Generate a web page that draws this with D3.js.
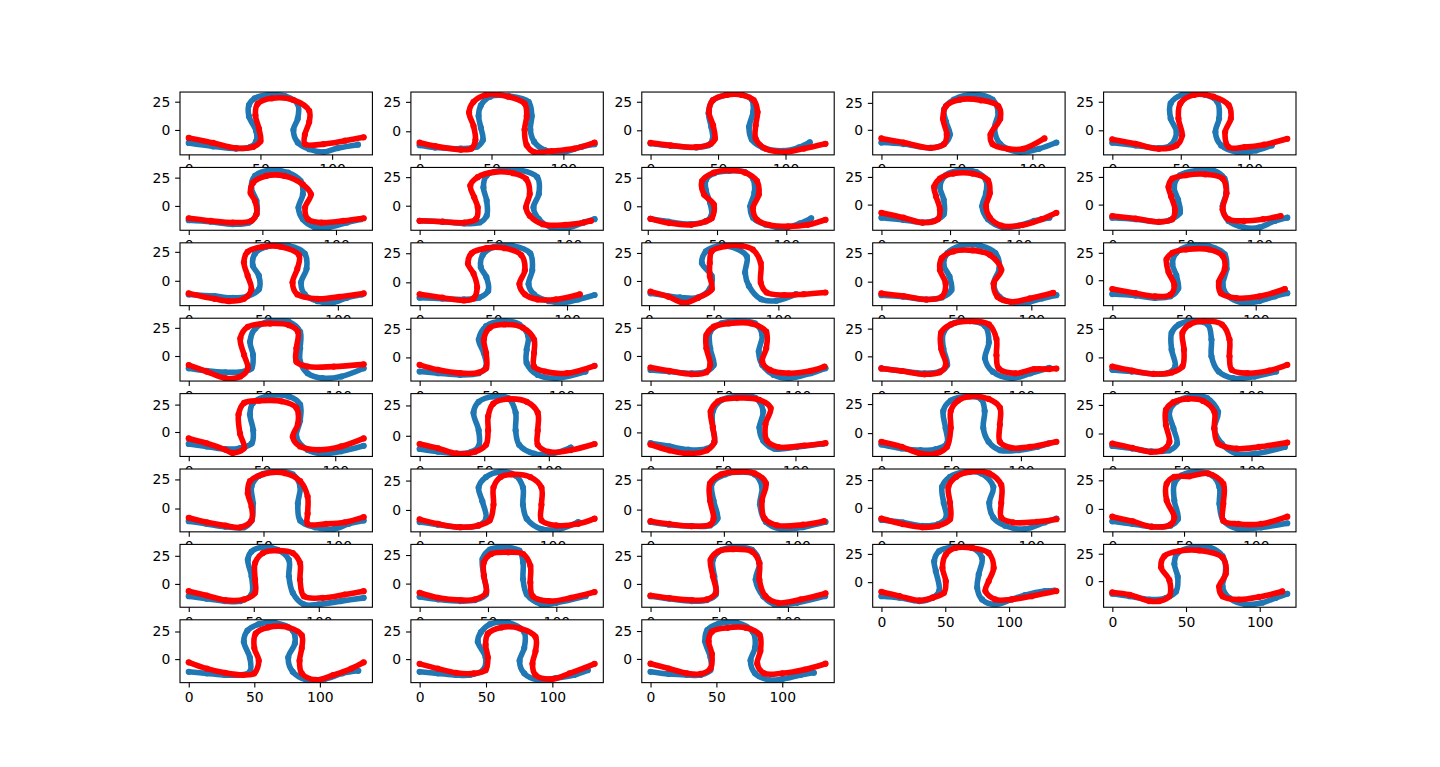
<!DOCTYPE html>
<html>
<head>
<meta charset="utf-8">
<script src="https://cdn.jsdelivr.net/npm/d3@7"></script>
<style>
  body { margin: 0; background: #fff; }
  svg { display: block; }
</style>
</head>
<body>
<div id="chart"></div>
<script>
// tick labels
var xTicks = [0, 50, 100]
var yTicks = [0, 25]

// each panel: blue curve (b) and red curve (r), [x, y] points
var b01 = [[0,-11.5],[17,-14.5],[33,-16.5],[43,-15],[47,-10],[47,-1],[42,12],[42,22],[46,28],[56,31],[67,30],[76,23],[76,10],[73,0],[76,-11],[84,-17],[94,-19.5],[104,-16],[118,-13]]
var r01 = [[0,-7],[17,-11.5],[33,-16],[45,-15],[50,-10],[49,1],[46.5,13],[48,23],[58,28],[73,26.5],[84,17],[84,7],[81,-4],[81,-12.5],[94,-12.5],[109,-9.5],[122,-6.5]]
var b02 = [[0,-11.8],[10.7,-13.8],[28.6,-14.7],[40,-13],[44,-7.4],[42.6,3],[41,13],[42.6,22],[49,29.4],[61.7,30],[75.8,25],[78,13],[77,1.5],[79.6,-8.8],[87,-16],[100,-17.6],[112.8,-13.2],[121.7,-11]]
var r02 = [[0,-9.7],[10.7,-12.6],[28.6,-15.6],[36,-14.7],[38.8,-7.4],[37.5,4.4],[34.4,16],[37.5,25],[46,30.9],[61.7,29.4],[73,23.5],[74.5,13],[73,1.5],[74.5,-11.8],[79.6,-17.6],[92,-16.8],[107.7,-14.7],[121.7,-9.7]]
var b03 = [[0,-11.5],[15,-13.5],[34,-15],[43,-13],[46,-8],[45,3],[43,15],[46,26],[56,31],[68,31],[75,27],[76,16],[73,3],[75,-8],[83,-15],[98,-18],[110,-15],[118,-10.5]]
var r03 = [[0,-11],[14.8,-13.2],[33.8,-14.7],[44.7,-11.8],[47.7,-7.4],[46.3,4.4],[43.3,16],[46.3,26.5],[56.3,31],[67.8,31],[76.4,26.5],[79.3,16],[77.9,4.4],[77.9,-7.4],[85,-16],[99.4,-19],[113.7,-16],[129.6,-11.8]]
var b04 = [[0,-11.8],[14.6,-13.2],[32.6,-16.8],[41.5,-13.2],[45.4,-4.4],[42.8,7.4],[41.5,19],[48,28],[60.8,32.4],[73.6,28],[77.4,16],[74.9,1.5],[78.7,-13.2],[91.5,-20.6],[104.4,-17.6],[115.9,-11.8]]
var r04 = [[0,-8],[14.6,-11.8],[32.6,-16.8],[41.5,-13.2],[43.3,-4.4],[40.8,10.3],[42.8,22],[51.8,28],[65.9,27.4],[77.4,22],[78.7,10.3],[72.3,-4.4],[73.6,-13.2],[83.8,-17.6],[94,-17.6],[108,-8]]
var b05 = [[0,-10.9],[17,-13.2],[34,-15.6],[42.6,-13.2],[46.9,-1.5],[42.6,10.3],[42.6,23.5],[51,31],[68,31],[76.7,25],[78,10.3],[75.3,-1.5],[79.5,-13.2],[91,-19],[105,-17.6],[116.5,-13.2]]
var r05 = [[0,-8],[17,-11.8],[34,-16.2],[46.9,-13.2],[51,-4.4],[48.3,10.3],[49.7,23.5],[59.7,31],[73.9,29.4],[85,22],[86.6,10.3],[82.4,-1.5],[85,-14.7],[96.6,-14.7],[110.8,-12.6],[127.8,-7.4]]
var b06 = [[0,-12.6],[15,-14],[30,-16.2],[41,-14.7],[46,-7.4],[46,4.4],[42.5,16],[45,26.5],[55,31.5],[67.5,29.4],[76,22],[77.5,10.3],[74.5,-1.5],[77.5,-11.8],[85,-18.5],[95,-19],[107.5,-14.7],[117,-11.8]]
var r06 = [[0,-10.9],[15,-13.2],[30,-14.7],[42.5,-13.2],[46,-7.4],[45,4.4],[42,11.5],[43.8,20.6],[52.5,26.5],[65,26.5],[77.5,19],[83,10.3],[79,-1.5],[81,-11.8],[90,-14.7],[105,-13.2],[118.8,-10.9]]
var b07 = [[0,-13.2],[15.4,-14],[30,-15.6],[40.3,-14.7],[45,-8.8],[45,4.4],[42.8,16],[45,26.5],[55,31],[67.7,31],[78.9,25],[80,10.3],[76.4,-1.5],[80,-11.8],[87.6,-18.5],[100,-19],[110,-14.7],[117.4,-11.8]]
var r07 = [[0,-13.2],[15.4,-14],[30,-14.7],[37.8,-11.8],[39,-1.5],[36.6,7.4],[34,17.6],[39,25],[50,29.4],[62.7,28.5],[71.4,23.5],[73.9,10.3],[71.4,-1.5],[73.9,-8.8],[82.6,-16.2],[97.5,-16.8],[110,-14.7],[115,-13.2]]
var b08 = [[2,-11],[15,-13.5],[31,-15.5],[42,-13],[46,-8],[45,3],[42,14],[42,23],[48,29],[59,31],[70,30],[76,24],[77,12],[74,0],[76,-10],[85,-16],[100,-18.5],[110,-15],[118,-10.5]]
var r08 = [[2,-10.9],[15.4,-14.7],[31.4,-16.2],[42,-13.2],[46.3,-10.3],[47.7,1.5],[40.6,10.3],[39.2,22],[47.7,29.4],[59,31.5],[70.4,29.4],[78.9,22],[80.2,10.3],[76,-1.5],[78.9,-11.8],[87.3,-16.2],[101.4,-17.6],[115.5,-16.2],[128.3,-11.8]]
var b09 = [[0,-11.8],[16,-13.8],[30,-16.2],[38.4,-14.7],[45.4,-8.8],[45.4,4.4],[42.6,16],[46.8,26.5],[58,31],[69.2,29.4],[76.2,22],[76.2,10.3],[73.4,-1.5],[77.6,-13.2],[88.8,-20.6],[100,-19],[111.2,-14.7],[122.4,-11.8]]
var r09 = [[0,-7.4],[16,-11.8],[30,-16.2],[41.2,-13.2],[42.6,-4.4],[39.8,7.4],[38.4,16],[42.6,23.5],[52.4,28],[66.4,28],[77.6,22],[79,10.3],[76.2,-1.5],[79,-11.8],[87.4,-19],[102.8,-18.5],[116.8,-13.2],[127.5,-7.4]]
var b10 = [[0,-11.8],[15.8,-13.2],[31.6,-15.6],[39.5,-13.8],[46,-7.4],[44.7,4.4],[42,16],[46,26.5],[57.9,31],[68.4,31],[76.3,23.5],[77.6,10.3],[75,-1.5],[79,-14.7],[89.5,-20.6],[100,-20.6],[110.5,-14.7],[119,-11.8]]
var r10 = [[0,-10.3],[15.8,-12.6],[31.6,-15.6],[40.8,-13.2],[42.6,-4.4],[40,7.4],[38.2,16],[40.8,23.5],[50,26.5],[63.2,27.4],[75,23.5],[77.6,10.3],[75,-4.4],[79,-13.2],[89.5,-14.7],[102.6,-13.2],[114.5,-10.3]]
var b11 = [[0,-11.8],[17.3,-13.2],[29.6,-14.7],[39.5,-13.2],[47,-7.4],[47,4.4],[43,13],[44.4,23.5],[51.9,29.4],[66.7,30.3],[77.8,23.5],[79,10.3],[75.3,-1.5],[77.8,-11.8],[86.4,-17.6],[96.3,-19],[106,-14.7],[116,-11.8]]
var r11 = [[0,-10.9],[17.3,-15.6],[27,-17.6],[37,-15.6],[42,-7.4],[39.5,4.4],[37,16],[39.5,25],[49.4,29.4],[61.7,29.4],[74,22],[72.8,10.3],[69.6,-1.5],[72.8,-11.8],[86.4,-15.6],[101,-13.8],[117.3,-10.9]]
var b12 = [[0,-13.2],[15.4,-14],[30,-14.7],[40.3,-13.2],[46.5,-7.4],[45.3,4.4],[41.5,13],[42.8,23.5],[50.2,30.3],[62.7,31.5],[75,25],[76.4,10.3],[73.9,-1.5],[77.6,-10.3],[87.6,-16.2],[97.5,-17.6],[107.5,-14.7],[118.7,-10.9]]
var r12 = [[0,-10.3],[15.4,-13.2],[30,-15.6],[36.6,-13.8],[39,-4.4],[36.6,7.4],[32.8,16],[35.3,25],[45.3,29.4],[57.7,29.4],[68.9,23.5],[71.4,10.3],[67.7,-1.5],[71.4,-10.3],[80,-14.7],[92.5,-14.7],[108.7,-10.3]]
var b13 = [[1.2,-11],[24,-14.7],[38,-14.7],[47,-7],[48.5,4.4],[40.9,16],[44,26.5],[53,31],[62,31],[75.6,22],[74.3,7.4],[77.2,-4.4],[86.4,-16.2],[98.5,-17.6],[113.6,-11.8]]
var r13 = [[1.2,-9.5],[15,-14],[27,-19.5],[38,-15],[48.5,-7.4],[47,4.4],[47,16],[48.5,26.5],[59,31],[71.2,31.5],[80.3,28],[86.4,16],[86.4,-1.5],[91,-10.3],[104.5,-12.6],[119.6,-11.8],[136.4,-10.3]]
var b14 = [[0,-11.8],[14.6,-13.2],[30,-15.6],[40.3,-13.8],[46.7,-7.4],[45.4,4.4],[41.5,14.7],[44,25],[53,31.5],[65.9,31.5],[76,25],[78.7,11.8],[74.9,-1.5],[78.7,-13.2],[89,-18.5],[99,-17.6],[107,-14.7],[116.7,-11.8]]
var r14 = [[0,-10.3],[14.6,-12.6],[30,-15.6],[40.3,-13.2],[42.8,-1.5],[39,10.3],[40.3,20.6],[48,26.5],[60.8,27.4],[72.3,23.5],[80,10.3],[74.9,-1.5],[77.4,-13.2],[86.4,-17.6],[99,-14.7],[114.6,-9.7]]
var b15 = [[0,-12.6],[16.2,-14],[29.7,-16.2],[40.5,-14.7],[46,-7.4],[44.6,4.4],[41.9,14.7],[44.6,25],[54,31.5],[67.6,31],[78.4,23.5],[79.7,10.3],[77,-4.4],[81,-14.7],[92,-20.6],[102.7,-19],[113.5,-14.7],[122,-11.8]]
var r15 = [[0,-8],[16.2,-11.8],[29.7,-14.7],[40.5,-13.2],[43.2,-4.4],[39.2,7.4],[37.8,19],[41.9,25],[51.4,28],[67.6,28],[77,22],[78.4,10.3],[74.3,-1.5],[75.7,-11.8],[86.5,-16.2],[102.7,-14.7],[120.3,-8]]
var b16 = [[0,-10.9],[12,-13.2],[24.5,-14.4],[37,-13.8],[42,-10.9],[43,1],[41,12.6],[44.5,24.4],[54.5,31],[67,30.3],[74.5,21.5],[74.5,6.8],[74.5,-5],[79.5,-15.3],[89.5,-19.7],[102,-18.2],[117,-10.9]]
var r16 = [[0,-8],[12,-13.8],[24.5,-19.7],[34.5,-18.2],[39.5,-10.9],[37,1],[34.5,15.6],[39.5,25.9],[54.5,28.8],[67,27.4],[73,21.5],[72,6.8],[72,-5],[79.5,-9.4],[97,-9.4],[117,-7.4]]
var b17 = [[0,-12.4],[13,-13.8],[28.6,-15.3],[41.7,-13.8],[46.9,-7.9],[45.3,3.8],[41.7,15.6],[46.9,27.4],[59.9,31.8],[70.3,28.8],[76.6,18.5],[75.5,6.8],[75.5,-5],[83.3,-15.3],[96.4,-18.2],[117,-12.4]]
var r17 = [[0,-6.5],[13,-10.9],[28.6,-13.8],[41.7,-13.2],[46.9,-9.4],[46.9,3.8],[45.3,15.6],[49.5,25.9],[59.9,28.8],[72.9,25.9],[80.7,15.6],[80.7,3.8],[80.7,-7.9],[88.5,-12.4],[104,-13.8],[123.4,-7.4]]
var b18 = [[0,-12.4],[12.7,-13.8],[28,-15.3],[38,-13.8],[43,-7.9],[40.6,6.8],[40.6,21.5],[48.2,28.8],[58.4,30.9],[71,28.8],[76,18.5],[73.6,3.8],[76,-7.9],[83.8,-16.8],[94,-19.7],[109,-15.3],[119,-10.9]]
var r18 = [[0,-10.3],[12.7,-13.2],[28,-16.2],[38,-14.4],[40.6,-7.9],[38,6.8],[38,18.5],[43,25.9],[53.3,28.8],[68.5,28.8],[78.7,21.5],[78.7,6.8],[76,-5],[81.2,-12.4],[94,-15.3],[109,-13.2],[118.3,-9.4]]
var b19 = [[0,-10.9],[14.6,-13.2],[30.8,-15.3],[41.6,-13.8],[47,-7.9],[44.3,6.8],[44.3,21.5],[52.4,30.3],[63.2,31.8],[74,27.4],[76.8,12.6],[74,-2],[79.5,-13.8],[93,-19.7],[106.5,-15.3],[120,-10.3]]
var r19 = [[0,-10.9],[14.6,-13.2],[30.8,-16.2],[41.6,-14.4],[46,-7.9],[42.7,6.8],[42.7,21.5],[49.7,28.8],[63.2,31.8],[76.8,28.8],[82.2,15.6],[82.2,1],[83.8,-10.9],[95.7,-15.3],[109,-11.5],[120,-11.5],[125,-11]]
var b20 = [[0,-10.9],[14,-12.4],[29.7,-14.4],[40,-13.8],[45.3,-7.9],[42.7,6.8],[42.7,21.5],[48,28.8],[58.3,31.8],[68.8,28.8],[71.4,15.6],[71.4,1],[76.6,-12.4],[87,-18.2],[102.6,-16.8],[118,-12.4]]
var r20 = [[0,-8],[14,-11.5],[29.7,-14.4],[42.7,-13.2],[50.5,-7.9],[51.6,6.8],[50.5,21.5],[55.7,28.8],[66,31.8],[79,28.8],[84.4,15.6],[84.4,1],[86,-10.9],[97.4,-13.8],[113,-11.5],[126,-6.5]]
var b21 = [[0,-10.9],[12.2,-13.2],[25,-15.6],[35,-14.7],[43,-10.3],[44,1.5],[41.8,16],[43.9,26.5],[53,32.4],[68.4,32.4],[76,25],[76,10.3],[73.5,-4.4],[81,-16.2],[91.3,-19.7],[104,-17.6],[119.4,-12.6]]
var r21 = [[0,-5.9],[12.2,-10.3],[25,-16.2],[30,-19.1],[37.8,-14.7],[35,-1.5],[34,16],[37.8,26.5],[48,28.5],[63.3,28],[73.5,22],[74.5,7.4],[71,-4.4],[76,-13.2],[88.8,-16.2],[104,-13.2],[119.4,-5.9]]
var b22 = [[0,-10.9],[14.3,-13.2],[28.6,-14.7],[40,-13.2],[45.7,-8.8],[45.7,4.4],[41.7,19],[45.7,28],[57,32.4],[68.6,31],[74.3,19],[74.3,4.4],[77,-7.4],[88.6,-14.7],[102.9,-14.7],[117,-9.7]]
var r22 = [[0,-6.8],[14.3,-10.3],[28.6,-14.7],[42.9,-13.2],[51.4,-7.4],[53,4.4],[53,16],[57,26.5],[68.6,30.3],[82.9,28],[91.4,19],[91.4,4.4],[91.4,-7.4],[100,-13.2],[117,-11.8],[135.4,-6.8]]
var b23 = [[0,-9.7],[13,-12.6],[26,-15.6],[38.9,-14.7],[44,-8.8],[43,4.4],[43,19],[49.2,29.4],[59.6,32.4],[72.5,31],[77.7,19],[75.1,4.4],[77.7,-7.4],[85.5,-14.7],[101,-13.2],[119,-10.3]]
var r23 = [[0,-10.9],[13,-16.2],[26,-19.1],[38.9,-16.2],[44,-8.8],[43,4.4],[41.5,19],[46.6,28],[59.6,31],[75,29.4],[82.9,22],[79.3,7.4],[80.3,-7.4],[88,-13.2],[106,-11.8],[120.7,-9.7]]
var b24 = [[0,-9.7],[14.6,-13.2],[28,-14.7],[39,-13.8],[47,-8.8],[46,4.4],[44.3,19],[49.7,28],[60.5,31.5],[71.4,29.4],[74,19],[73,4.4],[76.8,-7.4],[85,-14.7],[98.4,-14.7],[112,-11.8],[120,-8.8]]
var r24 = [[0,-7.4],[14.6,-11.8],[28,-17.6],[39,-17.6],[47,-11.8],[49.7,4.4],[49.7,19],[55,28],[63.2,31.5],[76.8,29.4],[84.9,22],[84.9,7.4],[84.9,-7.4],[93,-12.6],[106.5,-11.8],[125.4,-7.4]]
var b25 = [[0,-10.9],[14.4,-13.2],[27.8,-15.6],[41,-14.7],[46.5,-8.8],[43.9,4.4],[41,19],[46.5,28],[57.2,32.4],[68,31],[76,19],[73.3,4.4],[78.6,-8.8],[89.3,-17.6],[102.7,-17.6],[124,-11.8]]
var r25 = [[0,-8.8],[14.4,-12.6],[27.8,-16.2],[35.8,-14.7],[41,-7.4],[38.5,7.4],[38.5,20.6],[43.9,27.4],[54.5,30.3],[65.2,28.5],[73.3,19],[73.3,4.4],[76,-8.8],[89.3,-13.2],[105.3,-11.8],[125.7,-8]]
var b26 = [[0,-10.9],[12,-13.2],[24.5,-15.6],[37,-16.2],[42,-10.3],[43,4.4],[42,19],[47,28],[57,31.5],[69.5,29.4],[74.5,19],[73,4.4],[74.5,-10.3],[84.5,-16.2],[97,-17.6],[107,-13.2],[117,-10.3]]
var r26 = [[0,-8],[12,-11.8],[24.5,-14.7],[34.5,-16.2],[42,-10.3],[42,1.5],[39.5,13.2],[41,23.5],[49.5,29.4],[64.5,30.3],[74.5,23.5],[79.5,10.3],[79.5,-4.4],[79.5,-13.2],[92,-13.2],[104.5,-11.8],[117,-7.4]]
var b27 = [[0,-10.3],[13.9,-12.6],[30.6,-14.7],[44.4,-13.2],[50,-7.4],[47.2,7.4],[44.4,19],[50,28],[61,32.4],[72.2,29.4],[77.8,19],[77.8,4.4],[80.6,-7.4],[91.7,-16.2],[105.6,-16.2],[119.4,-10.3]]
var r27 = [[0,-8],[13.9,-11.8],[30.6,-14.7],[44.4,-13.2],[52.8,-8.8],[55.6,4.4],[55.6,19],[61,28],[69.4,30.3],[83.3,28],[91.7,19],[91.7,4.4],[91.7,-8.8],[102.8,-13.2],[119.4,-11.8],[131.7,-7.4]]
var b28 = [[0,-10.3],[12.7,-12.6],[28,-13.8],[40.6,-13.2],[45.7,-7.4],[43,7.4],[42,22],[50.8,29.4],[61,31.5],[71,29.4],[76,19],[74.6,4.4],[78.7,-10.3],[88.8,-16.2],[104,-14.7],[119.3,-10.3]]
var r28 = [[0,-9.7],[12.7,-12],[28,-13.8],[40.6,-12.6],[43,-7.4],[40.6,7.4],[40.6,22],[48.2,29.4],[58.4,31.5],[71,30.3],[78.7,22],[76,7.4],[77.7,-7.4],[86.3,-13.2],[104,-12.6],[118.3,-9.7]]
var b29 = [[0,-10.9],[14.2,-13.2],[27.4,-16.2],[37.9,-14.7],[43.2,-8.8],[41.6,4.4],[40.5,19],[45.8,28],[56.3,32.4],[66.8,31],[74.7,19],[72,4.4],[74.7,-8.8],[82.6,-16.2],[95.8,-19.1],[109,-13.2],[116.8,-9.7]]
var r29 = [[0,-9.7],[14.2,-14.7],[27.4,-17.6],[37.9,-16.2],[45.8,-10.3],[45.8,4.4],[44.7,19],[50,28],[59,32.4],[72,31],[80,20.6],[80,4.4],[80,-8.8],[87.9,-13.2],[103.7,-12.6],[116.8,-10.3]]
var b30 = [[0,-10.9],[14.2,-13.2],[27.4,-15.6],[40.5,-14.7],[45.8,-8.8],[43.2,7.4],[43.2,22],[48.4,29.4],[59,32.4],[69.5,29.4],[74.7,19],[74.7,4.4],[77.4,-10.3],[87.9,-17.6],[103.7,-16.2],[122,-12.6]]
var r30 = [[0,-6.8],[14.2,-10.9],[27.4,-15.6],[40.5,-13.8],[43.2,-7.4],[37.9,7.4],[37.9,22],[43.2,28],[53.7,28.5],[66.8,31],[77.4,22],[77.4,4.4],[77.4,-10.3],[87.9,-13.2],[103.7,-13.2],[122,-6.8]]
var b31 = [[0,-10.9],[13.8,-13.2],[28,-15.3],[39.7,-15.3],[48.3,-9.4],[48.3,6.8],[45.4,21.5],[48.3,28.8],[57,32.6],[68.4,30.3],[77,21.5],[77,6.8],[80,-7.9],[88.5,-18.2],[100,-18.2],[117,-15.3],[134.5,-12.4]]
var r31 = [[0,-6.5],[13.8,-10.3],[28,-14.4],[42.5,-13.8],[51,-7.9],[51,3.8],[51,18.5],[57,27.4],[68.4,29.7],[80,27.4],[85.6,18.5],[85.6,3.8],[88.5,-10.9],[103,-12.4],[120,-9.4],[134.5,-6.5]]
var b32 = [[0,-11.5],[13.5,-13.8],[29.7,-15.3],[40.5,-14.4],[48.6,-9.4],[47,6.8],[46,21.5],[51.4,29.7],[62.2,31.8],[73,28.8],[75.7,18.5],[75.7,3.8],[78.4,-9.4],[89,-18.2],[100,-16.8],[121.6,-10.9]]
var r32 = [[0,-8],[13.5,-12.4],[29.7,-14.4],[40.5,-13.8],[48.6,-7.9],[47,6.8],[47,18.5],[52.4,25.9],[64.9,27.4],[75.7,25.9],[81,15.6],[81,1],[82.7,-10.9],[94.6,-15.3],[110.8,-12.4],[128,-7.4]]
var b33 = [[0,-10.9],[13.7,-13.2],[30,-15.3],[41,-14.4],[47.5,-9.4],[46.4,6.8],[45.4,21.5],[51.9,30.3],[62.8,32.6],[73.8,30.3],[79.2,18.5],[76.5,3.8],[82,-10.9],[90.2,-18.2],[106.6,-16.8],[127,-10.9]]
var r33 = [[0,-10.3],[13.7,-12.6],[30,-14.4],[41,-13.8],[47.5,-7.9],[45.4,6.8],[43.7,21.5],[49.2,28.8],[60.1,30.9],[73.8,28.8],[79.2,18.5],[79.2,3.8],[83.6,-10.9],[92.9,-16.8],[109.3,-13.8],[127.3,-8.5]]
var b34 = [[0,-12.4],[14.2,-13.8],[29.7,-16.8],[40,-13.8],[45.2,-7.9],[42.6,9.7],[41.3,18.5],[45.2,27.4],[55.6,30.9],[71,30.3],[78.8,21.5],[76.2,6.8],[75,-5],[78.8,-15.3],[89,-19.7],[102,-15.3],[112.4,-11.5],[128,-7.9],[135.7,-7.4]]
var r34 = [[0,-8.5],[14.2,-12.4],[29.7,-16.2],[40,-13.8],[49,-9.4],[50.4,0.9],[47.8,12.6],[50.4,24.4],[58,30.3],[71,30.3],[84,25.9],[87.9,12.6],[84,0.9],[81.4,-7.9],[89,-15.3],[102,-15.3],[117.6,-12.4],[137,-7.9]]
var b35 = [[0,-11.5],[11.7,-13.8],[25.2,-16.8],[36.5,-15.3],[43.2,-9.4],[44.4,3.8],[42.1,15.6],[44.4,25.9],[54.5,30.9],[65.8,30.9],[74.8,22.9],[77,9.7],[74.8,-5],[79.3,-15.3],[90.5,-21.2],[101.8,-19.7],[110.8,-15.3],[118.7,-11.5]]
var r35 = [[0,-10.3],[11.7,-12.4],[25.2,-18.2],[32,-18.2],[38.7,-13.8],[38.7,0.9],[33.1,12.6],[35.4,22.9],[45.5,27.4],[59,28],[74.8,21.5],[77,6.8],[72.5,-5],[74.8,-13.8],[86,-16.8],[99.5,-14.4],[115.3,-9.4]]
var b36 = [[0,-11.5],[13.8,-12.9],[27.6,-14.4],[37.9,-14.4],[46.6,-11.5],[46.6,1.4],[42,15.8],[44.8,25.9],[53.4,31.6],[65.5,33],[79.3,25.9],[81,14.4],[75.9,1.4],[79.3,-11.5],[89.7,-18.7],[103.4,-18.1],[117.2,-12.9],[129.3,-10.6]]
var r36 = [[0,-2.9],[13.8,-8.6],[27.6,-12.4],[41.4,-14.4],[50,-12.9],[53.4,-1.4],[50,10],[51,23],[60.3,28.7],[75.9,28.7],[86.2,21.6],[86.2,10],[84.5,-1.4],[86.2,-12.9],[96.6,-18.7],[110.3,-14.4],[124,-8.6],[133.4,-2.9]]
var b37 = [[0,-11.5],[13.7,-12.9],[27.4,-14.4],[37.7,-14.4],[47.9,-10],[49.7,1.4],[43.8,15.8],[46.2,24.4],[53,31.6],[66.8,33],[78.8,24.4],[78.8,10],[75.3,-1.4],[78.8,-12.9],[89,-18.7],[102.7,-17.2],[116.4,-14.4],[126.7,-10]]
var r37 = [[0,-4.3],[13.7,-8.6],[27.4,-12.4],[41,-12.9],[49.7,-10],[51.4,1.4],[49.7,12.9],[51.4,23],[61.6,28.7],[75.3,27.9],[87.3,20.1],[87.3,7.2],[85,-4.3],[87.3,-14.4],[99.3,-18.1],[113,-12.9],[131.8,-4.3]]
var b38 = [[0,-11.5],[13.8,-13.5],[27.6,-14.4],[37.9,-14.4],[45.5,-10],[45.5,1.4],[41.4,15.8],[43.1,25.9],[51.7,31.6],[65.5,32.5],[77.6,24.4],[79.3,10],[75.9,-1.4],[79.3,-12.9],[89.7,-18.7],[100,-18.1],[113.8,-14.4],[124,-12.4]]
var r38 = [[0,-4.3],[13.8,-8.6],[27.6,-12.9],[37.9,-13.5],[45.5,-8.6],[46.6,4.3],[44.1,15.8],[46.6,24.4],[58.6,27.9],[72.4,27.9],[82.8,21.6],[83.4,7.2],[81,-4.3],[86.2,-12.9],[100,-12.9],[117.2,-9.5],[132.8,-4.3]]

var panels = [
    [b01, r01], [b02, r02], [b03, r03], [b04, r04], [b05, r05],
    [b06, r06], [b07, r07], [b08, r08], [b09, r09], [b10, r10],
    [b11, r11], [b12, r12], [b13, r13], [b14, r14], [b15, r15],
    [b16, r16], [b17, r17], [b18, r18], [b19, r19], [b20, r20],
    [b21, r21], [b22, r22], [b23, r23], [b24, r24], [b25, r25],
    [b26, r26], [b27, r27], [b28, r28], [b29, r29], [b30, r30],
    [b31, r31], [b32, r32], [b33, r33], [b34, r34], [b35, r35],
    [b36, r36], [b37, r37], [b38, r38]
]

var width = 1440
var height = 767
// matplotlib default subplot params
var figLeft = 0.125 * width, figRight = 0.9 * width
var figTop = (1 - 0.88) * height, figBottom = (1 - 0.11) * height
var nCols = 5, nRows = 8
var cellW = (figRight - figLeft) / (nCols + (nCols - 1) * 0.2)
var gapW = cellW * 0.2
var cellH = (figBottom - figTop) / (nRows + (nRows - 1) * 0.2)
var gapH = cellH * 0.2

var blueColor = '#1f77b4'
var redColor = '#ff0000'
var fontSize = '13.9px'
var tickLen = 4.86

var svg = d3.select('#chart').append('svg').attr('width', width).attr('height', height)
svg.append('rect').attr('width', width).attr('height', height).attr('fill', '#fff')

var line = d3.line().curve(d3.curveCatmullRom.alpha(0.5))

panels.forEach(function (pair, i) {
    var row = Math.floor(i / nCols)
    var col = i % nCols
    var x0 = figLeft + col * (cellW + gapW)
    var y0 = figTop + row * (cellH + gapH)

    var all = pair[0].concat(pair[1])
    var xExt = d3.extent(all, d => d[0])
    var yExt = d3.extent(all, d => d[1])
    var xPad = (xExt[1] - xExt[0]) * 0.05
    var yPad = (yExt[1] - yExt[0]) * 0.05
    var xScale = d3.scaleLinear().domain([xExt[0] - xPad, xExt[1] + xPad]).range([0, cellW])
    var yScale = d3.scaleLinear().domain([yExt[0] - yPad, yExt[1] + yPad]).range([cellH, 0])

    var g = svg.append('g').attr('transform', `translate(${x0},${y0})`)
    // white axes patch covers the earlier row's tick labels, like matplotlib
    g.append('rect').attr('width', cellW).attr('height', cellH).attr('fill', '#fff')

    var clipId = 'clip' + i
    g.append('defs').append('clipPath').attr('id', clipId)
        .append('rect').attr('width', cellW).attr('height', cellH)

    var plot = g.append('g').attr('clip-path', `url(#${clipId})`)
    var colors = [blueColor, redColor]
    pair.forEach(function (pts, k) {
        plot.append('path')
            .attr('d', line(pts.map(d => [xScale(d[0]), yScale(d[1])])))
            .attr('fill', 'none')
            .attr('stroke', colors[k])
            .attr('stroke-width', 5.6)
            .attr('stroke-linejoin', 'round')
            .attr('stroke-linecap', 'round')
        plot.selectAll('circle.c' + k).data(pts).join('circle')
            .attr('class', 'c' + k)
            .attr('cx', d => xScale(d[0]))
            .attr('cy', d => yScale(d[1]))
            .attr('r', 3.1)
            .attr('fill', colors[k])
    })

    var xAxis = d3.axisBottom(xScale).tickValues(xTicks).tickSize(tickLen).tickPadding(tickLen).tickFormat(d3.format('d'))
    var yAxis = d3.axisLeft(yScale).tickValues(yTicks).tickSize(tickLen).tickPadding(tickLen).tickFormat(d3.format('d'))

    var gx = g.append('g').attr('transform', `translate(0,${cellH})`).call(xAxis)
    var gy = g.append('g').call(yAxis)
    ;[gx, gy].forEach(function (ax) {
        ax.select('.domain').remove()
        ax.attr('font-family', 'DejaVu Sans, sans-serif').attr('font-size', fontSize)
        ax.selectAll('line').attr('stroke', '#000').attr('stroke-width', 1.1)
        ax.selectAll('text').attr('fill', '#000')
    })

    g.append('rect').attr('width', cellW).attr('height', cellH)
        .attr('fill', 'none').attr('stroke', '#000').attr('stroke-width', 1.1)
})
</script>
</body>
</html>
